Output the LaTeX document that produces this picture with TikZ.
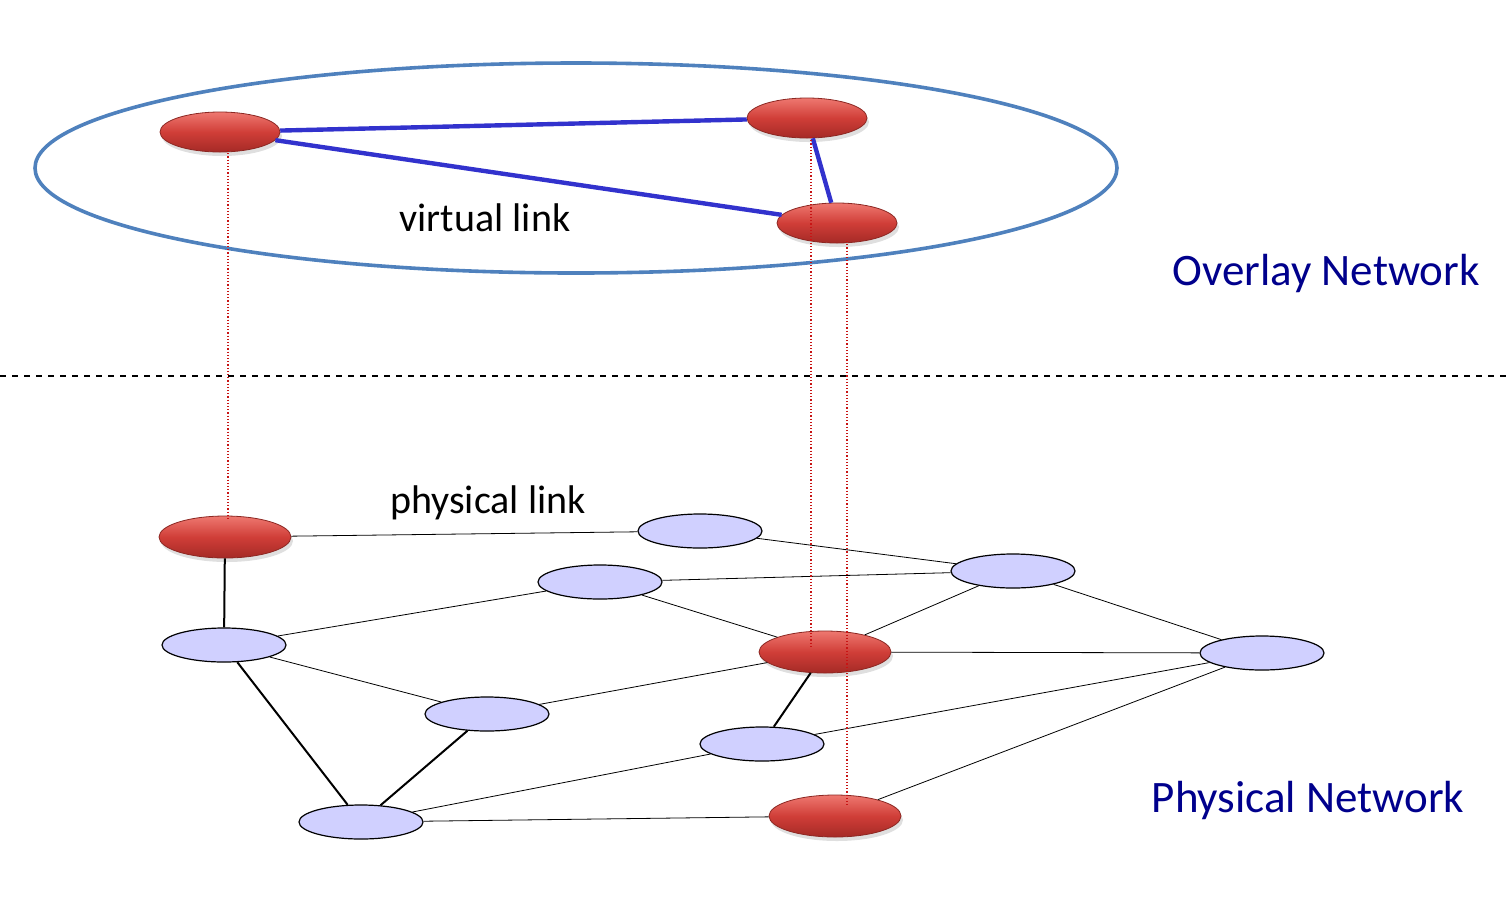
\documentclass[tikz,border=0pt]{standalone}
\usepackage{fontspec}
\setmainfont{Carlito}
\usepackage{xcolor}
\usepackage{tikz}
\usetikzlibrary{shapes, shadows}

\definecolor{ringblue}{RGB}{79,129,189}
\definecolor{linkblue}{RGB}{50,50,205}
\definecolor{nodelav}{RGB}{208,208,255}
\definecolor{labelblue}{RGB}{0,0,140}
\definecolor{mapred}{RGB}{200,20,20}

\begin{document}
\begin{tikzpicture}[x=0.5pt, y=-0.5pt]
            \tikzset{rnode/.style = {ellipse, inner sep=0pt, minimum width=60pt, minimum height=20pt,
                top color={rgb,255:red,238;green,120;blue,112}, bottom color={rgb,255:red,165;green,42;blue,38},
                middle color={rgb,255:red,208;green,62;blue,56}, draw={rgb,255:red,140;green,40;blue,35}, thin,
                drop shadow={opacity=0.25, shadow xshift=1pt, shadow yshift=-2pt}}}
            \tikzset{rbig/.style = {rnode, minimum width=66pt, minimum height=21pt}}
            \tikzset{lnode/.style = {ellipse, inner sep=0pt, minimum width=62pt, minimum height=17pt,
                fill=nodelav, draw=black, line width=0.6pt}}
            \tikzset{vlink/.style = {linkblue, line width=2.2pt}}
            \tikzset{plink/.style = {black, line width=0.4pt}}
            \tikzset{pthick/.style = {black, line width=1pt}}
            \tikzset{mapline/.style = {mapred, densely dotted, line width=0.6pt}}
            \tikzset{txt/.style = {font=\fontsize{20}{24}\selectfont}}
            \tikzset{title/.style = {font=\fontsize{22.5}{27}\selectfont, labelblue}}

            \useasboundingbox (0,0) rectangle (1512,912);

            % overlay ring
            \draw[ringblue, line width=1.8pt] (576,168) ellipse [x radius=541, y radius=105];

            % dividing line
            \draw[dashed, line width=0.6pt] (0,376) -- (1512,376);

            % mapping lines (behind the nodes)
            \coordinate (m1a) at (228,150);
            \coordinate (m1b) at (228,520);
            \coordinate (m2a) at (811,137);
            \coordinate (m2b) at (811,648);
            \coordinate (m3a) at (847,241);
            \coordinate (m3b) at (847,806);

            % physical nodes
            \node[rbig] (pa) at (225,537) {};
            \node[lnode] (pb) at (700,531) {};
            \node[lnode] (pc) at (600,582) {};
            \node[lnode] (pd) at (1013,571) {};
            \node[lnode] (pe) at (224,645) {};
            \node[rbig] (pf) at (825,652) {};
            \node[lnode] (pg) at (1262,653) {};
            \node[lnode] (ph) at (487,714) {};
            \node[lnode] (pi) at (762,744) {};
            \node[lnode] (pj) at (361,822) {};
            \node[rbig] (pk) at (835,816) {};

            % physical links
            \draw[plink] (pa) -- (pb);
            \draw[pthick] (pa) -- (pe);
            \draw[plink] (pb) -- (pd);
            \draw[plink] (pc) -- (pd);
            \draw[plink] (pc) -- (pe);
            \draw[plink] (pc) -- (pf);
            \draw[plink] (pd) -- (pf);
            \draw[plink] (pd) -- (pg);
            \draw[plink] (pe) -- (ph);
            \draw[pthick] (pe) -- (pj);
            \draw[plink] (pf) -- (pg);
            \draw[plink] (pf) -- (ph);
            \draw[pthick] (pf) -- (pi);
            \draw[pthick] (ph) -- (pj);
            \draw[plink] (pi) -- (pg);
            \draw[plink] (pi) -- (pj);
            \draw[plink] (pj) -- (pk);
            \draw[plink] (pk) -- (pg);

            % overlay nodes
            \node[rnode] (va) at (220,132) {};
            \node[rnode] (vb) at (807,118) {};
            \node[rnode] (vc) at (837,223) {};

            % virtual links
            \draw[vlink] (va) -- (vb);
            \draw[vlink] (va) -- (vc);
            \draw[vlink] (vb) -- (vc);

            % mapping
            \draw[mapline] (m1a) -- (m1b);
            \draw[mapline] (m2a) -- (m2b);
            \draw[mapline] (m3a) -- (m3b);

            % labels
            \node[txt] (vlabel) at (485,218) {virtual link};
            \node[txt] (plabel) at (488,503) {physical link};
            \node[title] (olabel) at (1326,273) {Overlay Network};
            \node[title] (phlabel) at (1308,800) {Physical Network};

        \end{tikzpicture}
\end{document}
